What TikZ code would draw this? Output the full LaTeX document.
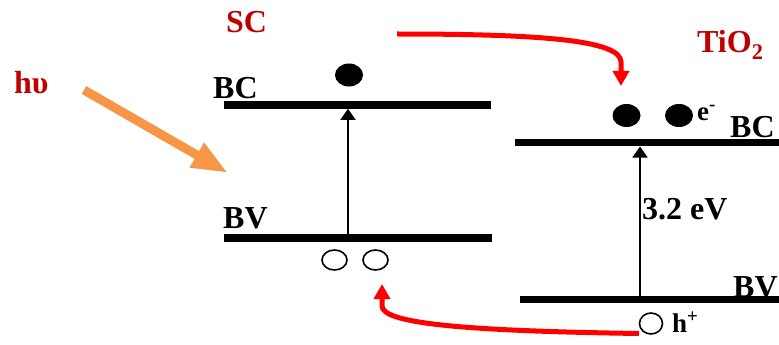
\documentclass[tikz,border=0pt]{standalone}
\usepackage{fontspec}
\setmainfont{Liberation Serif}
\usetikzlibrary{arrows.meta,shapes.geometric}
\definecolor{labelred}{RGB}{192,0,0}
\definecolor{photon}{RGB}{247,150,70}
\definecolor{transfer}{RGB}{255,0,0}
\begin{document}
\begin{tikzpicture}[x=1pt,y=-1pt,
  level/.style={line width=7.5pt},
  lbl/.style={anchor=base west, inner sep=0pt, font=\fontsize{32}{38}\selectfont\bfseries},
  redlbl/.style={lbl, text=labelred},
  small/.style={anchor=base west, inner sep=0pt, font=\fontsize{27}{32}\selectfont\bfseries},
  electron/.style={ellipse, fill=black, inner sep=0pt, minimum width=28pt, minimum height=23pt},
  hole/.style={ellipse, draw=black, line width=1.6pt, inner sep=0pt, minimum width=25pt, minimum height=20pt},
  gap/.style={line width=1.8pt, -{Triangle[length=11pt,width=15pt]}},
  jump/.style={transfer, line width=5pt, -{Triangle[length=15pt,width=16pt]}},
  light/.style={photon, line width=9pt, -{Triangle[length=36pt,width=26pt]}}
]
\useasboundingbox (0,0) rectangle (779,345);

% labels
\node[redlbl] (hv) at (14,93) {hυ};
\node[redlbl] (sc) at (226,33) {SC};
\node[redlbl] (tio2) at (697,53) {TiO\textsubscript{2}};
\node[lbl] (scbc) at (213,98) {BC};
\node[lbl] (scbv) at (223,228) {BV};
\node[lbl] (tibc) at (730,137) {BC};
\node[lbl] (tibv) at (733,297) {BV};
\node[lbl] (gapval) at (642,219) {3.2 eV};

% band levels of the sensitiser (left) and of TiO2 (right)
\coordinate (scBCl) at (224,105);
\coordinate (scBCr) at (491,105);
\coordinate (scBVl) at (224,238);
\coordinate (scBVr) at (492,238);
\coordinate (tiBCl) at (515,142.5);
\coordinate (tiBCr) at (779,142.5);
\coordinate (tiBVl) at (520,299.5);
\coordinate (tiBVr) at (779,299.5);
\draw[level] (scBCl) -- (scBCr);
\draw[level] (scBVl) -- (scBVr);
\draw[level] (tiBCl) -- (tiBCr);
\draw[level] (tiBVl) -- (tiBVr);

% band-gap excitations
\coordinate (scUp0) at (348,234.5);
\coordinate (scUp1) at (348,108.8);
\coordinate (tiUp0) at (640,295.5);
\coordinate (tiUp1) at (640,146.5);
\draw[gap] (scUp0) -- (scUp1);
\draw[gap] (tiUp0) -- (tiUp1);

% charge carriers
\node[electron] (e1) at (349,75) {};
\node[electron] (e2) at (626.5,115.5) {};
\node[electron] (e3) at (679,115.5) {};
\node[small] (elab) at (697,120) {e\textsuperscript{-}};
\node[hole] (h1) at (334.5,260) {};
\node[hole] (h2) at (375.5,260) {};
\node[hole, minimum width=23pt, minimum height=21pt] (h3) at (651,323.5) {};
\node[small] (hlab) at (672,332) {h\textsuperscript{+}};

% incoming light
\coordinate (lightA) at (84,90);
\coordinate (lightB) at (228,173);
\draw[light] (lightA) -- (lightB);

% electron injection and hole transfer
\coordinate (injA) at (397,34);
\coordinate (injB) at (621,86);
\draw[jump] (injA) .. controls (540,34) and (621,40) .. (621,62) -- (injB);
\coordinate (holeA) at (639,333.5);
\coordinate (holeB) at (382,284);
\draw[jump] (holeA) .. controls (470,331) and (382,324) .. (382,306) -- (holeB);
\end{tikzpicture}
\end{document}
